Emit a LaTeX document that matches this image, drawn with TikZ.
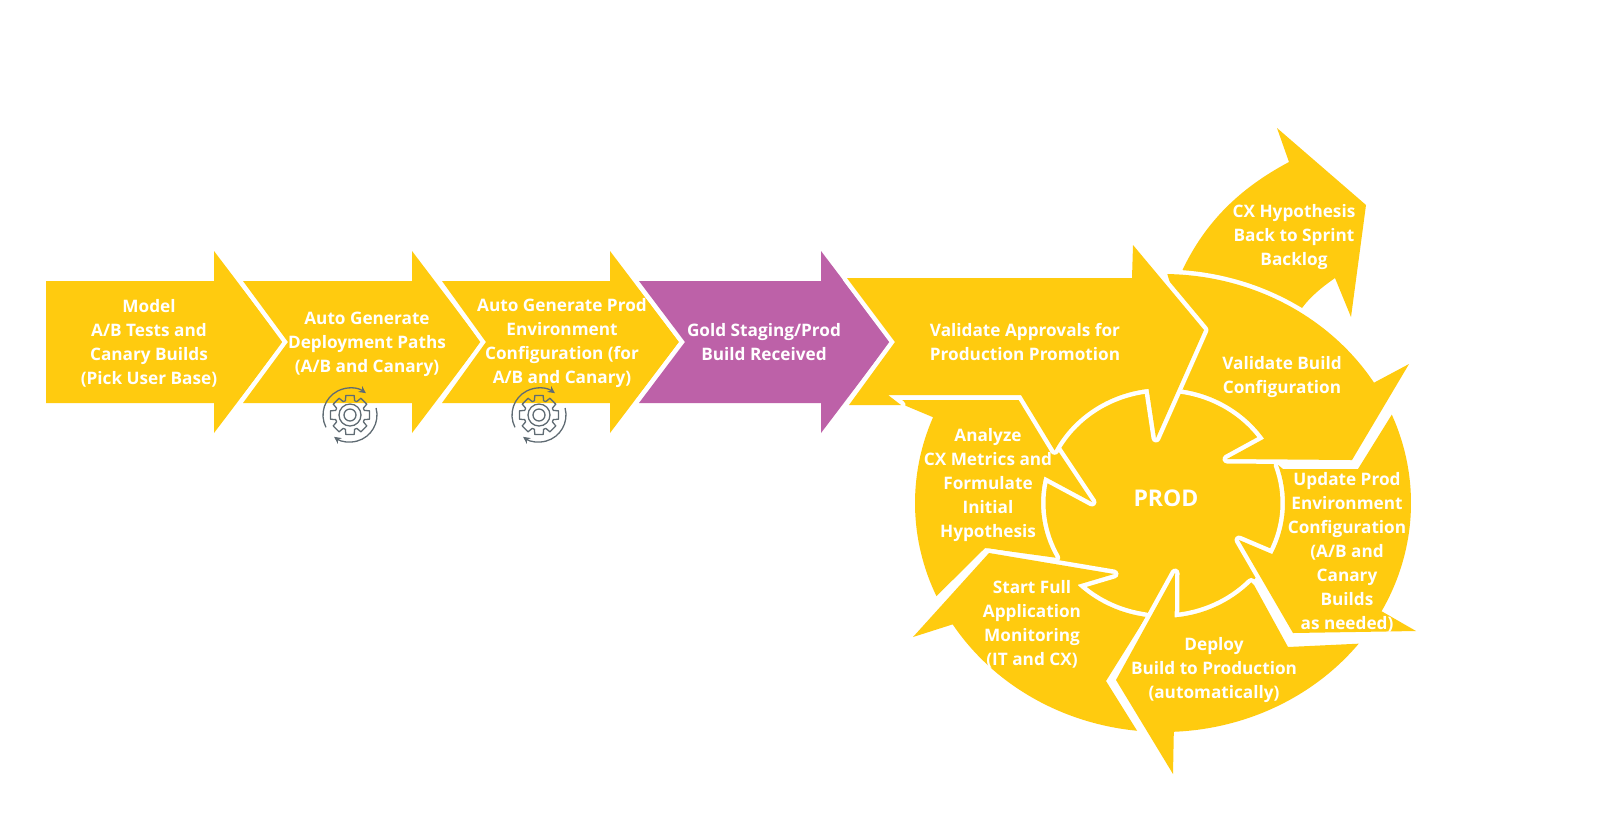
\documentclass[tikz,border=0pt]{standalone}
\usepackage{fontspec}
\setmainfont{Open Sans}
\usetikzlibrary{arrows.meta}
\definecolor{gold}{HTML}{FFCB0F}
\definecolor{plum}{HTML}{BD61A8}
\definecolor{iconc}{HTML}{5F6B73}
\newcommand{\OP}[1]{([shift={(#1:248 and 229)}]c)}
\newcommand{\IP}[1]{([shift={(#1:122 and 115)}]c)}
\newcommand{\OA}[2]{arc[start angle=#1,end angle=#2,x radius=248,y radius=229]}
\newcommand{\IA}[2]{arc[start angle=#1,end angle=#2,x radius=122,y radius=115]}
\newcommand{\gearicon}[1]{%
  \begin{scope}[shift={(#1)},draw=iconc,line width=0.65pt,line join=round]
    \draw (0,0) circle[radius=6];
    \draw (0,0) circle[radius=11];
    \draw (-12:20) \foreach \a in {0,45,...,315} { -- (\a-12:20) -- (\a+12:20) -- (\a+18:15) -- (\a+27:15) } -- cycle;
    \draw[-{Stealth[length=3.5pt,width=3.5pt]}] (153:27) arc[start angle=153,end angle=306,radius=27];
    \draw[-{Stealth[length=3.5pt,width=3.5pt]}] (-15:27) arc[start angle=-15,end angle=126,radius=27];
  \end{scope}}
\tikzset{
  x=0.5pt,y=-0.5pt,
  shapeg/.style={fill=gold,preaction={draw=white,line width=4.5pt,line join=round}},
  shapep/.style={fill=plum,preaction={draw=white,line width=4.5pt,line join=round}},
  lbl/.style={text=white,align=center,inner sep=0pt,font=\fontsize{8.6}{12}\selectfont\bfseries},
}
\begin{document}
\begin{tikzpicture}
\useasboundingbox (0,0) rectangle (1612,827);
\coordinate (c) at (1163,503);
% straight arrows
\path[fill=gold] (46,281)--(214,281)--(214,251)--(283,342)--(214,433)--(214,403)--(46,403)--cycle;
\path[shapeg] (243,281)--(412,281)--(412,251)--(481,342)--(412,433)--(412,403)--(243,403)--(288,342)--cycle;
\path[shapeg] (442,281)--(610,281)--(610,251)--(679,342)--(610,433)--(610,403)--(442,403)--(486,342)--cycle;
\path[shapep] (639,281)--(821,281)--(821,251)--(890,342)--(821,433)--(821,403)--(639,403)--(685,342)--cycle;
% hub
\path[fill=gold] (c) ellipse[x radius=122,y radius=115];
% CX hypothesis arrow
\path[shapeg] (1182,271) .. controls (1205,222) and (1240,188) .. (1289,162) -- (1277,128) -- (1366,205) -- (1351,317) -- (1335,278) .. controls (1322,287) and (1310,297) .. (1302,308) -- (1240,290) -- cycle;
% Analyze
\path[shapeg] \OP{156} \OA{156}{202} -- (892,400) -- (1024,400) -- (1092,502) -- \IP{193.4} \IA{193.4}{151.6} -- (985,548) -- cycle;
% Start Full
\path[shapeg] (913,637) -- \OP{148} \OA{148}{96} -- (1106,681) -- (1146,617) -- \IP{100.3} \IA{100.3}{134.6} -- (1114,574) -- (989,553) -- cycle;
% Deploy
\path[shapeg] \OP{87.5} \OA{87.5}{37.9} -- (1288,647) -- (1254,585) -- \IP{43.7} \IA{43.7}{84.5} -- (1175,573) -- (1116,680) -- (1173,774) -- cycle;
% Update
\path[shapeg] \OP{-22.7} \OA{-22.7}{28.2} -- (1416,631) -- (1293,633) -- (1239,540) -- \IP{26.4} \IA{26.4}{-19.3} -- (1283,469) -- (1358,469) -- cycle;
% Validate Build
\path[shapeg] \OP{-89} \OA{-89}{-31.7} -- (1409,364) -- (1352,460) -- (1227,459) -- \IP{-34} \IA{-34}{-81.9} -- (1190,350) -- cycle;
% Validate Approvals
\path[shapeg] (847,278) -- (1132,278) -- (1133,245) -- (1204,330) -- (1156,438) -- \IP{263.2} \IA{263.2}{207.3} -- (1021,395) -- (888,395) -- (901,405) -- (849,405) -- (895,342) -- cycle;
% icons
\gearicon{350,415}
\gearicon{539,415}
% labels
\node[lbl] (n1) at (149,343) {Model\\A/B Tests and\\Canary Builds\\(Pick User Base)};
\node[lbl] (n2) at (367,344) {Auto Generate\\Deployment Paths\\(A/B and Canary)};
\node[lbl] (n3) at (562,343) {Auto Generate Prod\\Environment\\Configuration (for\\A/B and Canary)};
\node[lbl] (n4) at (764,342) {Gold Staging/Prod\\Build Received};
\node[lbl] (n5) at (1025,342) {Validate Approvals for\\Production Promotion};
\node[lbl] (n6) at (1294,237) {CX Hypothesis\\Back to Sprint\\Backlog};
\node[lbl] (n7) at (1282,377) {Validate Build\\Configuration};
\node[lbl] (n8) at (1347,552) {Update Prod\\Environment\\Configuration\\(A/B and\\Canary\\Builds\\as needed)};
\node[lbl] (n9) at (1214,670) {Deploy\\Build to Production\\(automatically)};
\node[lbl] (n10) at (1032,624) {Start Full\\Application\\Monitoring\\(IT and CX)};
\node[lbl] (n11) at (988,485) {Analyze\\CX Metrics and\\Formulate\\Initial\\Hypothesis};
\node[lbl,font=\fontsize{11.5}{14}\selectfont\bfseries] (n12) at (1166,498) {PROD};
\end{tikzpicture}
\end{document}
